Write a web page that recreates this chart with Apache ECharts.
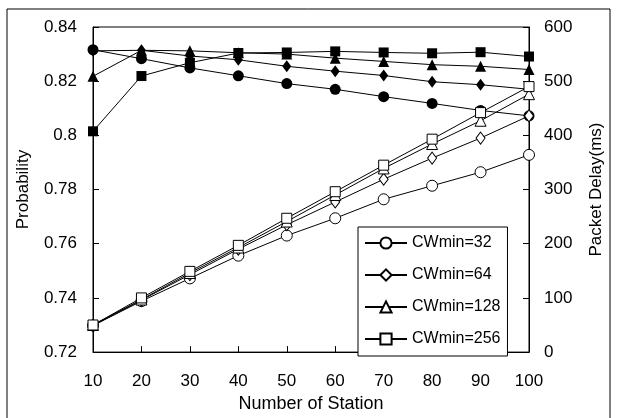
<!doctype html>
<html>
<head>
<meta charset="utf-8">
<script src="https://cdn.jsdelivr.net/npm/echarts@6/dist/echarts.min.js"></script>
<style>
html,body{margin:0;padding:0;background:#fff;}
#main{width:621px;height:418px;}
</style>
</head>
<body>
<div id="main"></div>
<script type="text/javascript">
// number of stations
var stations = [10, 20, 30, 40, 50, 60, 70, 80, 90, 100];
var cwNames = ['CWmin=32', 'CWmin=64', 'CWmin=128', 'CWmin=256'];

// probability (left axis, filled markers)
var prob32  = [0.8316, 0.8283, 0.8249, 0.8220, 0.8191, 0.8170, 0.8143, 0.8118, 0.8092, 0.8072];
var prob64  = [0.8312, 0.8314, 0.8293, 0.8279, 0.8255, 0.8237, 0.8221, 0.8198, 0.8187, 0.8170];
var prob128 = [0.8218, 0.8314, 0.8312, 0.8305, 0.8300, 0.8285, 0.8273, 0.8261, 0.8255, 0.8243];
var prob256 = [0.8015, 0.8219, 0.8268, 0.8304, 0.8306, 0.8310, 0.8306, 0.8303, 0.8307, 0.8291];

// packet delay in ms (right axis, hollow markers)
var delay32  = [49, 94, 136, 178, 215, 247, 282, 307, 332, 364];
var delay64  = [49, 96, 143, 190, 235, 277, 319, 358, 395, 436];
var delay128 = [50, 97, 146, 193, 241, 290, 339, 384, 427, 476];
var delay256 = [50, 100, 149, 197, 247, 296, 345, 393, 442, 490];

var symbols = ['circle', 'diamond', 'triangle', 'rect'];
var sizes = [11, [9, 12], 11, 10];
var probs = [prob32, prob64, prob128, prob256];
var delays = [delay32, delay64, delay128, delay256];

function pairs(vals){
    var res = [];
    for (var i = 0; i < stations.length; i++) {
        res.push([stations[i], vals[i]]);
    }
    return res;
}

var font = 'Liberation Sans, Arial, sans-serif';
var series = [];
for (var k = 0; k < 4; k++) {
    series.push({
        name: 'P ' + cwNames[k],
        type: 'line',
        yAxisIndex: 0,
        data: pairs(probs[k]),
        symbol: symbols[k],
        symbolSize: sizes[k],
        lineStyle: {color: '#000', width: 1},
        itemStyle: {color: '#000'},
        animation: false
    });
}
for (var k = 0; k < 4; k++) {
    series.push({
        name: cwNames[k],
        type: 'line',
        yAxisIndex: 1,
        data: pairs(delays[k]),
        symbol: symbols[k],
        symbolSize: sizes[k],
        lineStyle: {color: '#000', width: 1},
        itemStyle: {color: '#fff', borderColor: '#000', borderWidth: 1},
        animation: false
    });
}

var myChart = echarts.init(document.getElementById('main'));
var option = {
    animation: false,
    textStyle: {fontFamily: font},
    grid: {
        left: 93, right: 92, top: 27, bottom: 63,
        show: true, borderColor: '#000', borderWidth: 1, backgroundColor: 'transparent'
    },
    graphic: [{
        type: 'rect',
        shape: {x: 7, y: 9, width: 603, height: 420},
        style: {fill: 'none', stroke: '#000', lineWidth: 1}
    }],
    legend: {
        data: cwNames,
        orient: 'vertical',
        left: 358, top: 227,
        padding: [8, 7, 9, 6],
        itemWidth: 42, itemHeight: 14, itemGap: 16,
        borderColor: '#000', borderWidth: 1,
        backgroundColor: '#fff',
        textStyle: {fontFamily: font, fontSize: 16, color: '#000'}
    },
    xAxis: {
        type: 'value',
        min: 10, max: 100, interval: 10,
        name: 'Number of Station',
        nameLocation: 'middle',
        nameGap: 35,
        nameTextStyle: {fontFamily: font, fontSize: 18, color: '#000'},
        axisLine: {lineStyle: {color: '#000', width: 1}},
        axisTick: {inside: true, length: 6, lineStyle: {color: '#000'}},
        axisLabel: {fontFamily: font, fontSize: 17, color: '#000', margin: 21},
        splitLine: {show: false}
    },
    yAxis: [{
        type: 'value',
        min: 0.72, max: 0.84, interval: 0.02,
        name: 'Probability',
        nameLocation: 'middle',
        nameGap: 61,
        nameTextStyle: {fontFamily: font, fontSize: 17, color: '#000'},
        axisLine: {show: true, lineStyle: {color: '#000', width: 1}},
        axisTick: {show: true, inside: true, length: 6, lineStyle: {color: '#000'}},
        axisLabel: {fontFamily: font, fontSize: 17, color: '#000', margin: 16},
        splitLine: {show: false}
    }, {
        type: 'value',
        min: 0, max: 600, interval: 100,
        name: 'Packet Delay(ms)',
        nameLocation: 'middle',
        nameGap: 59,
        nameTextStyle: {fontFamily: font, fontSize: 17, color: '#000'},
        axisLine: {show: true, lineStyle: {color: '#000', width: 1}},
        axisTick: {show: true, inside: true, length: 6, lineStyle: {color: '#000'}},
        axisLabel: {fontFamily: font, fontSize: 17, color: '#000', margin: 15},
        splitLine: {show: false}
    }],
    series: series
};
myChart.setOption(option);
</script>
</body>
</html>
